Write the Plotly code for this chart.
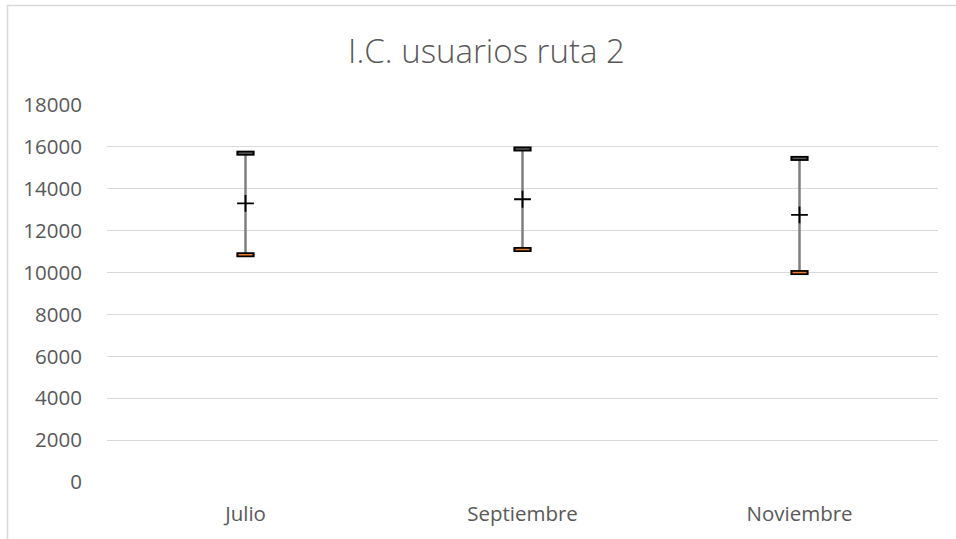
import plotly.graph_objects as go

categories = ["Julio", "Septiembre", "Noviembre"]
high_vals = [15700, 15900, 15450]
low_vals = [10850, 11100, 10000]
mean_vals = [13300, 13500, 12750]
y_ticks = [0, 2000, 4000, 6000, 8000, 10000, 12000, 14000, 16000, 18000]

FONT = "'Open Sans', Lato, sans-serif"
TXT = "#595959"

L, T, PW, PH = 107, 105, 831, 377

fig = go.Figure()

fig.add_trace(go.Scatter(
    x=categories, y=mean_vals, mode="markers",
    marker=dict(symbol="cross-thin", size=12, line=dict(width=1.8, color="black"), color="black"),
    error_y=dict(type="data", symmetric=False,
                 array=[h - m for h, m in zip(high_vals, mean_vals)],
                 arrayminus=[m - l for m, l in zip(mean_vals, low_vals)],
                 color="#7F7F7F", thickness=2.5, width=0),
    showlegend=False, hoverinfo="skip"))

fig.add_trace(go.Scatter(
    x=categories, y=high_vals, mode="markers",
    marker=dict(symbol="line-ew", size=13, line=dict(width=5, color="black")),
    showlegend=False, hoverinfo="skip"))
fig.add_trace(go.Scatter(
    x=categories, y=high_vals, mode="markers",
    marker=dict(symbol="line-ew", size=10, line=dict(width=1.5, color="#595959")),
    showlegend=False, hoverinfo="skip"))

fig.add_trace(go.Scatter(
    x=categories, y=low_vals, mode="markers",
    marker=dict(symbol="line-ew", size=13, line=dict(width=5, color="black")),
    showlegend=False, hoverinfo="skip"))
fig.add_trace(go.Scatter(
    x=categories, y=low_vals, mode="markers",
    marker=dict(symbol="line-ew", size=10, line=dict(width=1.5, color="#ED7D31")),
    showlegend=False, hoverinfo="skip"))

fig.update_layout(
    width=956, height=539,
    margin=dict(l=L, r=956 - L - PW, t=T, b=539 - T - PH),
    paper_bgcolor="white", plot_bgcolor="white",
    font=dict(family=FONT, color=TXT, size=20),
    title=dict(text="I.C. usuarios ruta 2", x=486.5 / 956, xanchor="center",
               y=1 - 51 / 539, yanchor="middle",
               font=dict(family=FONT, size=33, color=TXT, weight=300)),
    xaxis=dict(range=[-0.5, 2.5], showgrid=False, zeroline=False, showline=False,
               ticks="outside", ticklen=13, tickcolor="rgba(0,0,0,0)",
               tickfont=dict(size=20.5, color=TXT)),
    yaxis=dict(range=[0, 18000], tickvals=y_ticks, ticktext=[str(v) for v in y_ticks],
               showgrid=True, gridcolor="#D9D9D9", gridwidth=1,
               zeroline=False, showline=False,
               ticks="outside", ticklen=20, tickcolor="rgba(0,0,0,0)",
               tickfont=dict(size=20.5, color=TXT)),
    shapes=[dict(type="rect", xref="paper", yref="paper",
                 x0=(7.5 - L) / PW, x1=(975 - L) / PW,
                 y0=(T + PH - 560) / PH, y1=(T + PH - 5.5) / PH,
                 line=dict(color="#D9D9D9", width=1.5), fillcolor="rgba(0,0,0,0)",
                 layer="below")],
)

fig.write_html("out.html", config={"displayModeBar": False},
               post_script="document.body.style.margin='0';document.body.style.padding='0';")
